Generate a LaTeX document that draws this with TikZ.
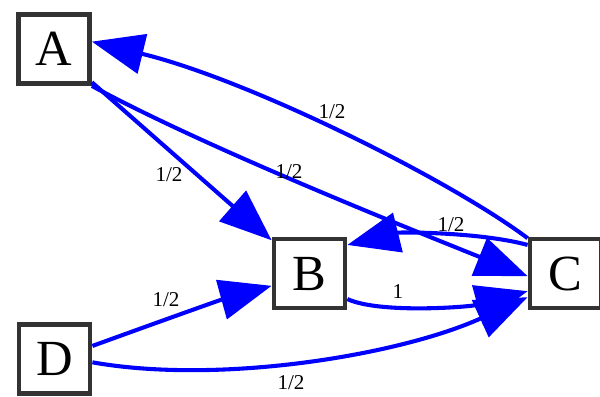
\documentclass[tikz,border=0pt]{standalone}
\usepackage{fontspec}
\setmainfont{Liberation Serif}
\usetikzlibrary{arrows.meta}

\begin{document}
\begin{tikzpicture}[>={Triangle[length=1.3cm,width=1cm]}, x=0.025cm, y=-0.025cm,
		page/.style={draw=black!80, line width=3.4pt, fill=white, minimum width=1.775cm, minimum height=1.725cm, inner sep=0pt, font=\fontsize{36}{36}\selectfont},
		link/.style={->, draw=blue, line width=2.9pt},
		lbl/.style={font=\fontsize{15}{15}\selectfont, inner sep=0pt}]
		\useasboundingbox (0,0) rectangle (600,396);
		% pages
		\node[page] (A) at (54,49) {A};
		\node[page] (B) at (309.5,273.5) {B};
		\node[page] (C) at (565.5,273.5) {C};
		\node[page] (D) at (54.5,359) {D};
		% links
		\draw[link] (A) -- (B);
		\draw[link] (A.south east) .. controls (200,145) and (400,225) .. (C.184);
		\draw[link] (C.137) .. controls (450,180) and (250,80) .. (A.11);
		\draw[link] (C.143) .. controls (480,232) and (400,232) .. (B.37);
		\draw[link] (B.-34) .. controls (380,314) and (470,307) .. (C.205);
		\draw[link] (D.19) .. controls (150,325) and (220,300) .. (B.198);
		\draw[link] (D.-5) .. controls (220,385) and (400,355) .. (C.212);
		% weights
		\node[lbl] (wab) at (169,175) {1/2};
		\node[lbl] (wac) at (289,172) {1/2};
		\node[lbl] (wca) at (332,112) {1/2};
		\node[lbl] (wcb) at (451,225) {1/2};
		\node[lbl] (wbc) at (398,292) {1};
		\node[lbl] (wdb) at (166,300) {1/2};
		\node[lbl] (wdc) at (291,383) {1/2};
	\end{tikzpicture}
\end{document}
